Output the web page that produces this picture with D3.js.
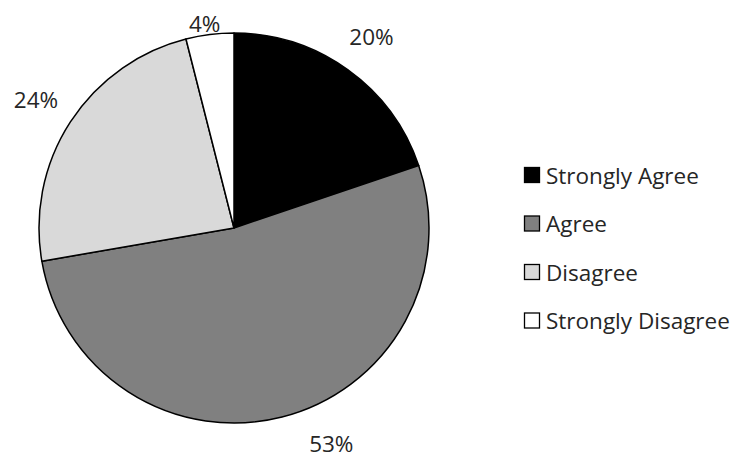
<!DOCTYPE html>
<html>
<head>
<meta charset="utf-8">
<script src="https://cdn.jsdelivr.net/npm/d3@7"></script>
<style>
  body { margin: 0; background: #fff; }
  svg { display: block; }
  text { font-family: "Open Sans", Lato, sans-serif; fill: #262626; }
</style>
</head>
<body>
<svg id="chart"></svg>
<script>
var categories = ["Strongly Agree", "Agree", "Disagree", "Strongly Disagree"];
var values = [20, 53, 24, 4];
var colors = ["#000000", "#808080", "#d9d9d9", "#ffffff"];

var width = 736, height = 458;
var cx = 234, cy = 228, radius = 195;
var labelR = 236, topY = 23, bottomY = 443;

var svg = d3.select("#chart")
    .attr("width", width)
    .attr("height", height);

var data = categories.map(function (c, i) { return { name: c, value: values[i], color: colors[i] }; });

var pie = d3.pie().sort(null).value(function (d) { return d.value; });
var arc = d3.arc().innerRadius(0).outerRadius(radius);

var g = svg.append("g")
    .attr("transform", "translate(" + cx + "," + cy + ")");

var arcs = pie(data);

g.selectAll("path")
    .data(arcs)
    .enter()
    .append("path")
    .attr("d", arc)
    .attr("fill", function (d) { return d.data.color; })
    .attr("stroke", "#000")
    .attr("stroke-width", 1.5)
    .attr("stroke-linejoin", "round");

// label position: mid angle on a circle, pushed back inside the frame
function labelPos(d) {
    var a = (d.startAngle + d.endAngle) / 2;
    var x = labelR * Math.sin(a), y = -labelR * Math.cos(a);
    var y2 = Math.max(topY - cy, Math.min(bottomY - cy, y));
    if (y2 !== y) {
        var dx = Math.sqrt(Math.max(0, labelR * labelR - y2 * y2)) * (x < 0 ? -1 : 1);
        var a2 = Math.atan2(dx, -y2);
        if (a2 < 0) a2 += 2 * Math.PI;
        if (a2 >= d.startAngle && a2 <= d.endAngle) x = dx;
        y = y2;
    }
    return [x, y];
}

g.selectAll("text.pct")
    .data(arcs)
    .enter()
    .append("text")
    .attr("class", "pct")
    .attr("text-anchor", "middle")
    .attr("dominant-baseline", "central")
    .attr("font-size", 22.5)
    .attr("x", function (d) { return labelPos(d)[0]; })
    .attr("y", function (d) { return labelPos(d)[1]; })
    .text(function (d) { return d.data.value + "%"; });

// legend
var legend = svg.append("g")
    .attr("transform", "translate(524,175)");

var rows = legend.selectAll("g")
    .data(data)
    .enter()
    .append("g")
    .attr("transform", function (d, i) { return "translate(0," + (i * 48.5) + ")"; });

rows.append("rect")
    .attr("x", 0.5)
    .attr("y", -7.5)
    .attr("width", 15)
    .attr("height", 15)
    .attr("fill", function (d) { return d.color; })
    .attr("stroke", "#000")
    .attr("stroke-width", 1.3);

rows.append("text")
    .attr("x", 22)
    .attr("y", 0)
    .attr("dominant-baseline", "central")
    .attr("font-size", 22.5)
    .text(function (d) { return d.name; });
</script>
</body>
</html>
